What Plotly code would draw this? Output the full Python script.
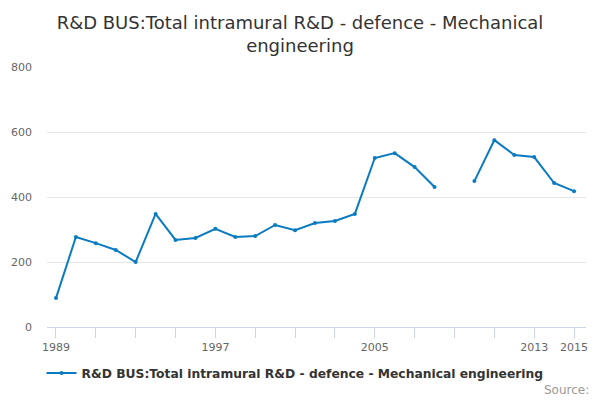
import plotly.graph_objects as go

years = list(range(1989, 2016))
values = [89, 277, 258, 237, 200, 348, 268, 274, 302, 277, 280, 314, 298, 320, 326, 348,
          520, 535, 492, 431, None, 449, 575, 529, 523, 443, 418]
series_name = "R&D BUS:Total intramural R&D - defence - Mechanical engineering"
tick_years = list(range(1989, 2016, 2))
label_years = {1989, 1997, 2005, 2013, 2015}
tick_text = [str(y) if y in label_years else "" for y in tick_years]

W, H = 592, 392  # page adds an 8px body margin
fig = go.Figure()
fig.add_trace(go.Scatter(
    x=years, y=values, mode="lines+markers", name=series_name,
    line=dict(color="#0b7bc1", width=2), marker=dict(size=4, color="#0b7bc1"),
    connectgaps=False,
))

fig.update_layout(
    width=W, height=H,
    margin=dict(l=39, r=14, t=59, b=73, autoexpand=False),
    paper_bgcolor="white", plot_bgcolor="white",
    font=dict(family="DejaVu Sans", color="#666666"),
    title=dict(text="R&D BUS:Total intramural R&D - defence - Mechanical<br>engineering",
               x=(300 - 8) / W, xanchor="center", y=1 - 21 / H, yanchor="middle",
               font=dict(size=18, color="#333333")),
    showlegend=True,
    legend=dict(orientation="h", x=(295 - 47) / 539, xanchor="center", y=-0.177, yanchor="middle",
                font=dict(size=12.3, color="#333333", weight="bold"), bgcolor="rgba(0,0,0,0)",
                itemwidth=30),
    xaxis=dict(range=[1988.55, 2015.6], tickvals=tick_years, ticktext=tick_text,
               showgrid=False, showline=True, linecolor="#ccd6eb", linewidth=1,
               ticks="outside", ticklen=10, tickcolor="#ccd6eb", automargin=False,
               tickfont=dict(size=11, color="#666666"), zeroline=False),
    yaxis=dict(range=[0, 800], tickvals=[0, 200, 400, 600, 800], automargin=False,
               showgrid=True, gridcolor="#e6e6e6", zeroline=False, showline=False,
               tickfont=dict(size=11, color="#666666"), ticklabelstandoff=14),
    annotations=[dict(text="Source:", xref="paper", yref="paper", x=(583 - 39) / 539, y=-0.242,
                      xanchor="right", yanchor="middle", showarrow=False,
                      font=dict(size=12, color="#999999"))],
)

fig.write_html("out.html")
